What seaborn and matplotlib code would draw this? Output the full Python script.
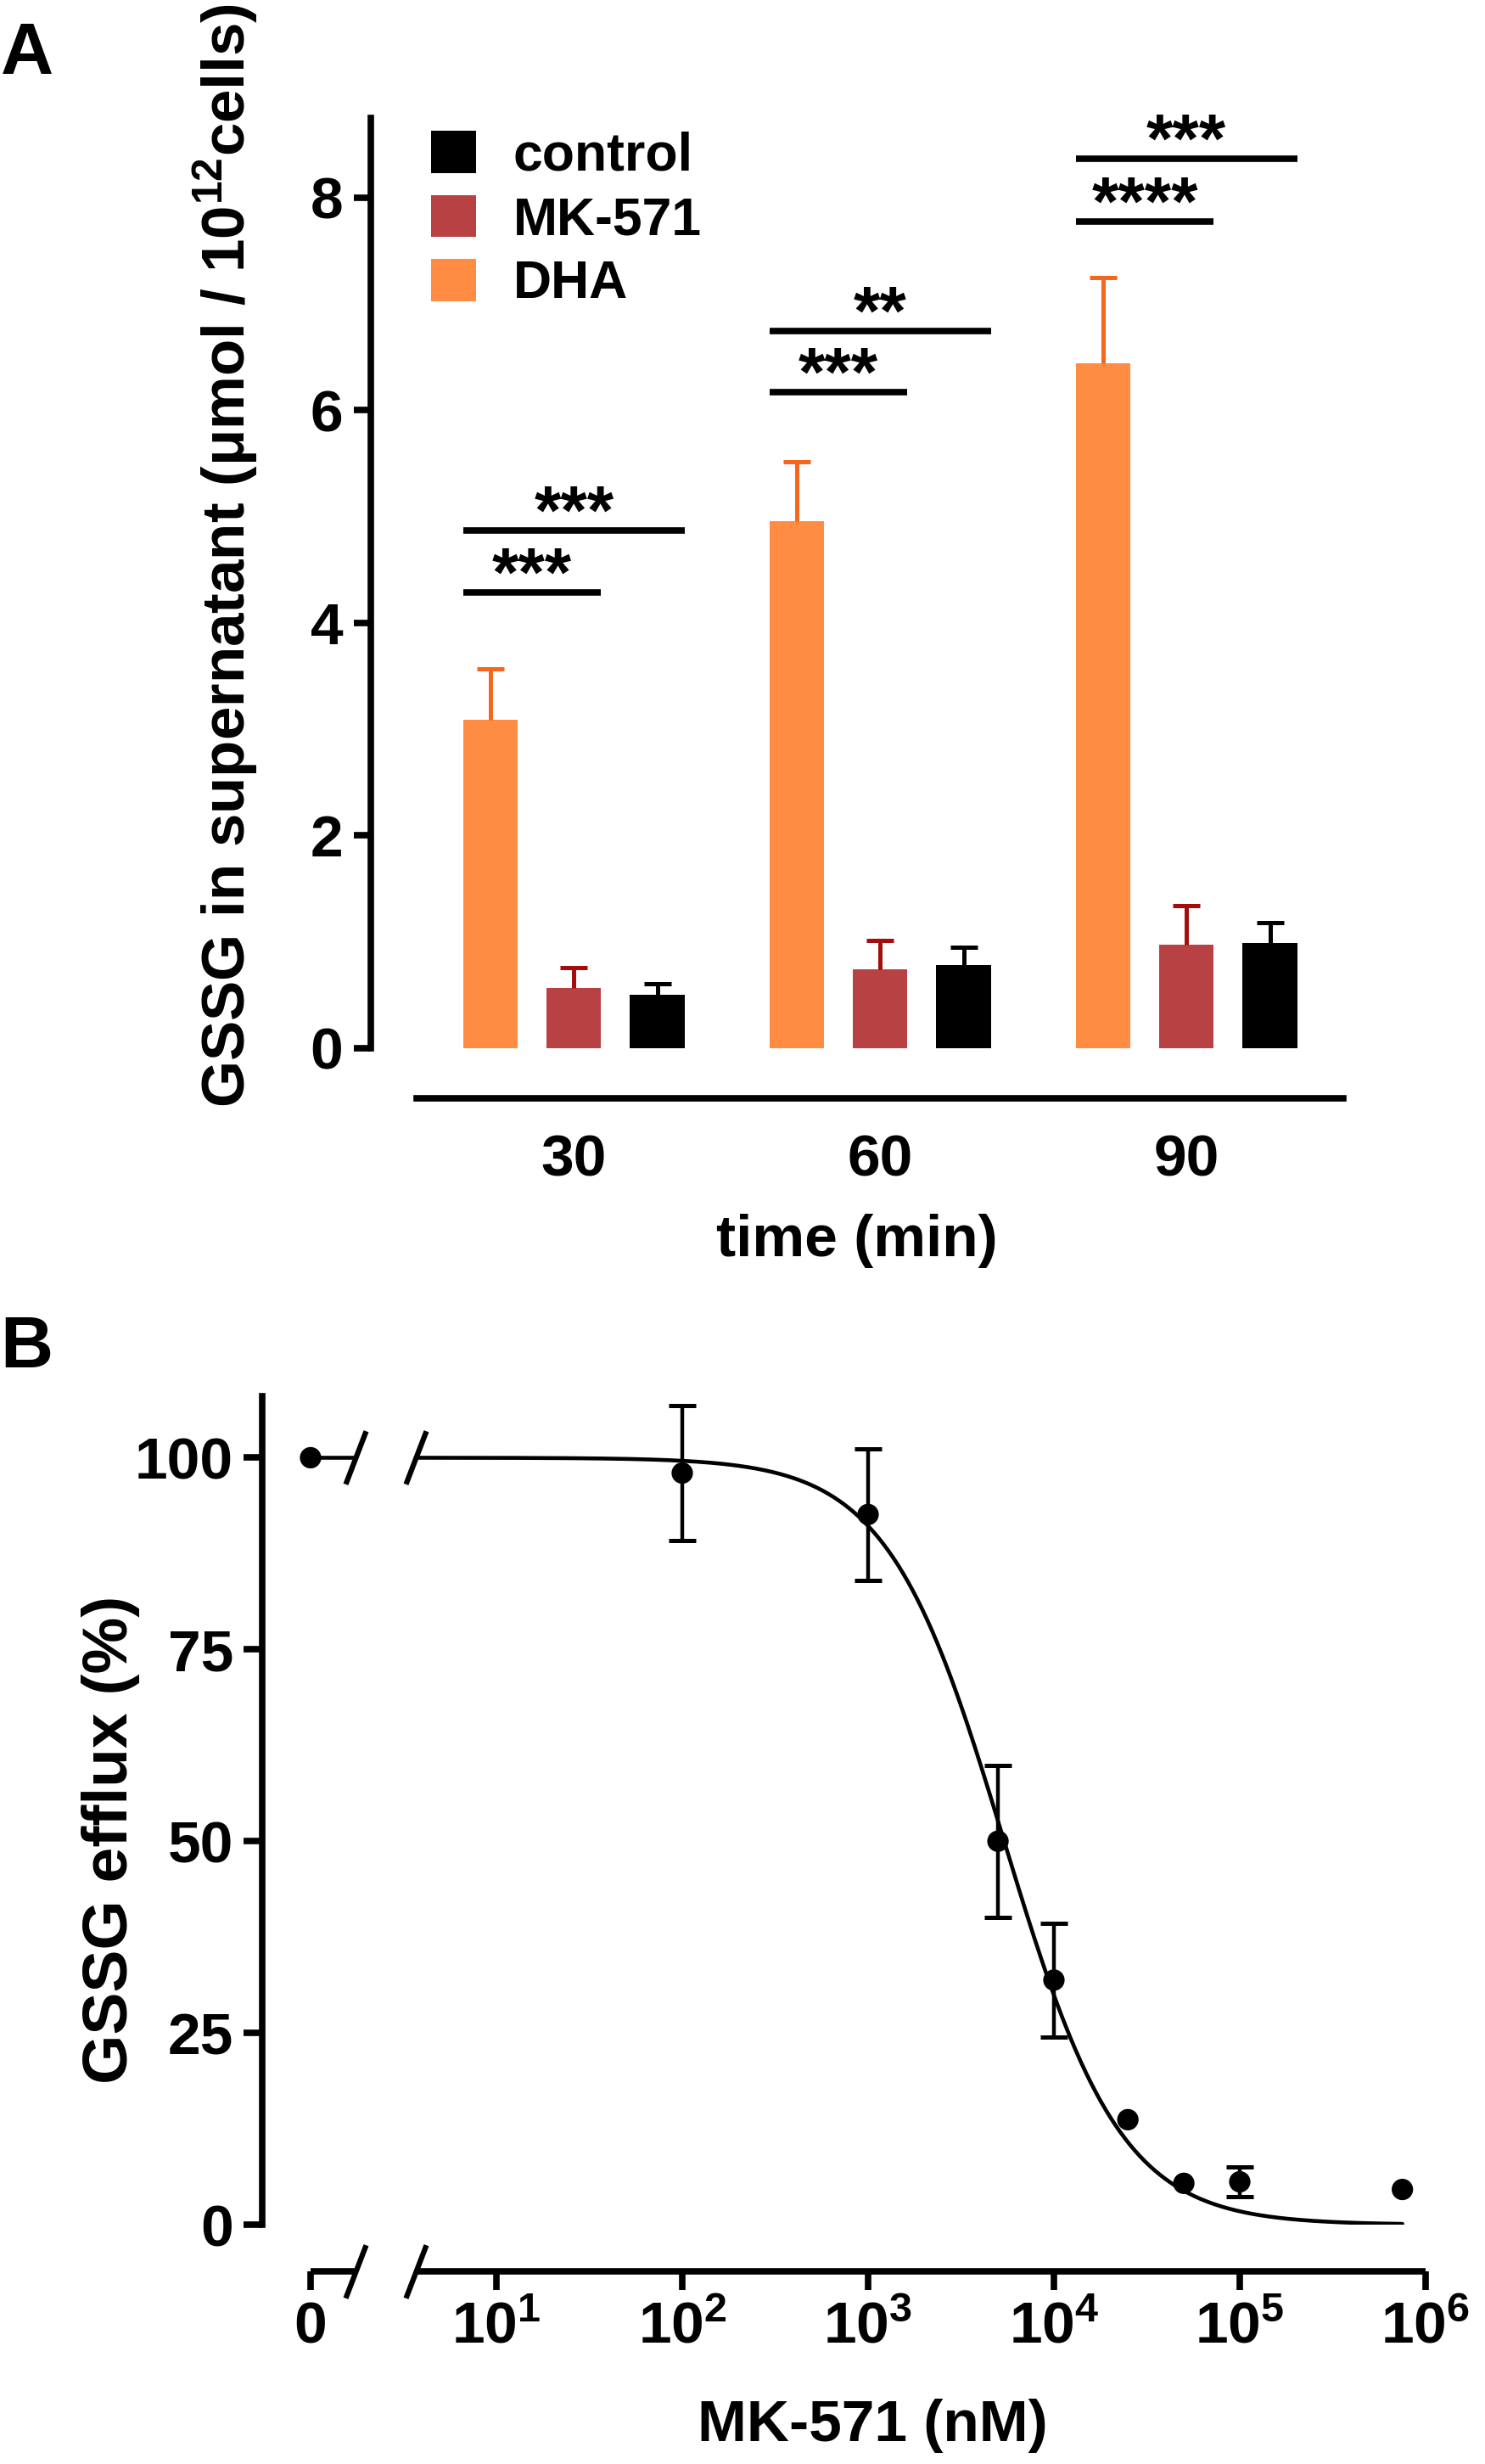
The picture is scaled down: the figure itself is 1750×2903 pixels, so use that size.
import matplotlib
matplotlib.use('Agg')
import matplotlib.pyplot as plt
from matplotlib.patches import Patch
from matplotlib.ticker import NullLocator
import seaborn as sns
import numpy as np
import pandas as pd

# ---------------- panel A data ----------------
times = ['30', '60', '90']
groups = ['DHA', 'MK-571', 'control']
dha_mean = [3.09, 4.96, 6.44]
dha_err = [0.48, 0.56, 0.81]
mk_mean = [0.57, 0.74, 0.97]
mk_err = [0.19, 0.27, 0.37]
ctrl_mean = [0.50, 0.78, 0.99]
ctrl_err = [0.11, 0.17, 0.19]

sig_short = ['***', '***', '****']   # DHA vs MK-571
sig_short_y = [4.29, 6.17, 7.78]
sig_long = ['***', '**', '***']      # DHA vs control
sig_long_y = [4.87, 6.75, 8.37]

bar_colors = {'DHA': '#FF8C42', 'MK-571': '#B84144', 'control': '#000000'}
err_colors = {'DHA': '#F5671F', 'MK-571': '#A30D0D', 'control': '#000000'}

# ---------------- panel B data ----------------
conc = [1e2, 1e3, 5e3, 1e4, 2.5e4, 5e4, 1e5, 7.5e5]
efflux = [98.0, 92.6, 50.0, 31.9, 13.7, 5.4, 5.6, 4.6]
efflux_err = [8.8, 8.6, 9.9, 7.4, 0.0, 0.0, 1.9, 0.0]
zero_efflux = 100.0
xtick_pos = [1, 1e1, 1e2, 1e3, 1e4, 1e5, 1e6]
xtick_labels = ['0', '$10^{1}$', '$10^{2}$', '$10^{3}$', '$10^{4}$', '$10^{5}$', '$10^{6}$']

# fitted log(inhibitor) vs response curve
fit_top, fit_bottom, fit_ic50, fit_hill = 100.0, 0.0, 5400.0, 1.38
break_lo, break_hi = 10 ** 0.24, 10 ** 0.565

sns.set_style('ticks')
NARROW = ['Liberation Sans Narrow', 'Liberation Sans', 'DejaVu Sans']
WIDE = ['Liberation Sans', 'DejaVu Sans']
plt.rcParams['font.family'] = WIDE
plt.rcParams['font.weight'] = 'bold'
plt.rcParams['mathtext.default'] = 'regular'
for key in ['text.color', 'axes.labelcolor', 'xtick.color', 'ytick.color', 'axes.edgecolor']:
    plt.rcParams[key] = 'black'

LW = 5.5

fig = plt.figure(figsize=(17.5, 29.03), dpi=100)

# ================= panel A =================
axA = fig.add_axes([0.2497, 0.5746, 0.6549, 0.3775])

df = pd.DataFrame({
    'time': times * 3,
    'group': ['DHA'] * 3 + ['MK-571'] * 3 + ['control'] * 3,
    'value': dha_mean + mk_mean + ctrl_mean,
})
errs = {'DHA': dha_err, 'MK-571': mk_err, 'control': ctrl_err}

sns.barplot(data=df, x='time', y='value', hue='group', hue_order=groups, order=times,
            palette=bar_colors, saturation=1, width=0.817, gap=0.345, errorbar=None,
            linewidth=0, legend=False, ax=axA)

for cont, g in zip(axA.containers, groups):
    for bar, e in zip(cont, errs[g]):
        xc = bar.get_x() + bar.get_width() / 2
        h = bar.get_height()
        eb = axA.errorbar([xc], [h], yerr=[[0], [e]], fmt='none', ecolor=err_colors[g],
                          elinewidth=3.6, capsize=11.5, capthick=3.6, zorder=1)
        eb[1][0].set_visible(False)

# significance bars
for i in range(len(times)):
    left = axA.containers[0][i].get_x()
    r_mk = axA.containers[1][i].get_x() + axA.containers[1][i].get_width()
    r_ct = axA.containers[2][i].get_x() + axA.containers[2][i].get_width()
    for right, yv, lab in [(r_mk, sig_short_y[i], sig_short[i]), (r_ct, sig_long_y[i], sig_long[i])]:
        axA.plot([left, right], [yv, yv], color='black', lw=LW, solid_capstyle='butt')
        axA.text((left + right) / 2, yv - 0.03, lab, ha='center', va='baseline',
                 fontsize=58, fontweight='bold', family=WIDE)

axA.set_xlim(-0.663, 2.512)
axA.set_ylim(0, 8.75)
axA.set_yticks([0, 2, 4, 6, 8])
sns.despine(ax=axA)
axA.spines['left'].set_linewidth(LW)
axA.spines['bottom'].set_linewidth(LW)
axA.spines['bottom'].set_position(('outward', 42.5))
axA.spines['bottom'].set_bounds(-0.512, 2.512)
axA.tick_params(axis='y', length=14.5, width=LW, pad=9, labelsize=50)
axA.tick_params(axis='x', length=0, pad=30, labelsize=50)
for t in axA.get_xticklabels() + axA.get_yticklabels():
    t.set_family(NARROW)
    t.set_fontweight('bold')

axA.set_xlabel('time (min)', fontsize=50, fontweight='bold', family=NARROW, labelpad=22)
axA.set_ylabel('GSSG in supernatant (μmol / 10$^{12}$cells)', fontsize=51,
               fontweight='bold', family=WIDE)
axA.yaxis.set_label_coords(-0.114, 0.53)

handles = [Patch(facecolor=bar_colors[g], edgecolor='none', label=g) for g in groups[::-1]]
axA.legend(handles=handles, loc='upper left', bbox_to_anchor=(0.062, 0.986), frameon=False,
           prop={'family': WIDE, 'weight': 'bold', 'size': 45},
           handlelength=0.85, handleheight=0.85, handletextpad=0.7, labelspacing=0.25,
           borderpad=0, borderaxespad=0)

# ================= panel B =================
axB = fig.add_axes([0.1766, 0.0971, 0.7834, 0.3362])
axB.set_xscale('log')

curve_x = np.logspace(np.log10(break_hi), np.log10(conc[-1]), 400)
curve_y = fit_bottom + (fit_top - fit_bottom) / (1 + (curve_x / fit_ic50) ** fit_hill)
sns.lineplot(x=curve_x, y=curve_y, color='black', lw=3.3, ax=axB, sort=False)
axB.plot([xtick_pos[0], break_lo], [fit_top, fit_top], color='black', lw=3.3)

sns.scatterplot(x=[xtick_pos[0]] + conc, y=[zero_efflux] + efflux, color='black',
                s=330, edgecolor='none', ax=axB, zorder=5, clip_on=False)
has_err = [i for i, e in enumerate(efflux_err) if e > 0]
axB.errorbar([conc[i] for i in has_err], [efflux[i] for i in has_err],
             yerr=[efflux_err[i] for i in has_err], fmt='none', ecolor='black',
             elinewidth=3.2, capsize=11.5, capthick=3.6)

slash = [(-1, -2.6), (1, 2.6)]
axB.plot([break_lo, break_hi], [fit_top, fit_top], ls='none', marker=slash, ms=45,
         mew=4.5, mec='black', clip_on=False)

axB.set_xlim(10 ** -0.26, 1e6)
axB.set_ylim(0, 108)
axB.set_yticks([0, 25, 50, 75, 100])
sns.despine(ax=axB)
axB.spines['left'].set_linewidth(LW)
axB.spines['bottom'].set_position(('outward', 39.6))
axB.spines['bottom'].set_visible(False)
axB.set_xticks(xtick_pos)
axB.set_xticklabels(xtick_labels)
axB.xaxis.set_minor_locator(NullLocator())

spine_tr = axB.spines['bottom'].get_spine_transform()
axB.plot([xtick_pos[0], break_lo], [0, 0], transform=spine_tr, color='black', lw=LW,
         clip_on=False, solid_capstyle='butt')
axB.plot([break_hi, xtick_pos[-1]], [0, 0], transform=spine_tr, color='black', lw=LW,
         clip_on=False, solid_capstyle='butt')
axB.plot([break_lo, break_hi], [0, 0], transform=spine_tr, ls='none', marker=slash, ms=45,
         mew=4.5, mec='black', clip_on=False)

axB.tick_params(axis='y', length=15.5, width=LW, pad=9, labelsize=50)
axB.tick_params(axis='x', length=15.5, width=LW, pad=9, labelsize=50)
for t in axB.get_xticklabels() + axB.get_yticklabels():
    t.set_family(NARROW)
    t.set_fontweight('bold')

axB.set_xlabel('MK-571 (nM)', fontsize=50, fontweight='bold', family=NARROW, labelpad=18)
axB.xaxis.set_label_coords(0.525, -0.21)
axB.set_ylabel('GSSG efflux (%)', fontsize=54, fontweight='bold', family=WIDE)
axB.yaxis.set_label_coords(-0.105, 0.465)

fig.text(0.018, 0.9775, 'A', fontsize=62, fontweight='bold', ha='center', va='center')
fig.text(0.018, 0.4526, 'B', fontsize=62, fontweight='bold', ha='center', va='center')

fig.savefig('out.png', dpi=100, facecolor='white')
